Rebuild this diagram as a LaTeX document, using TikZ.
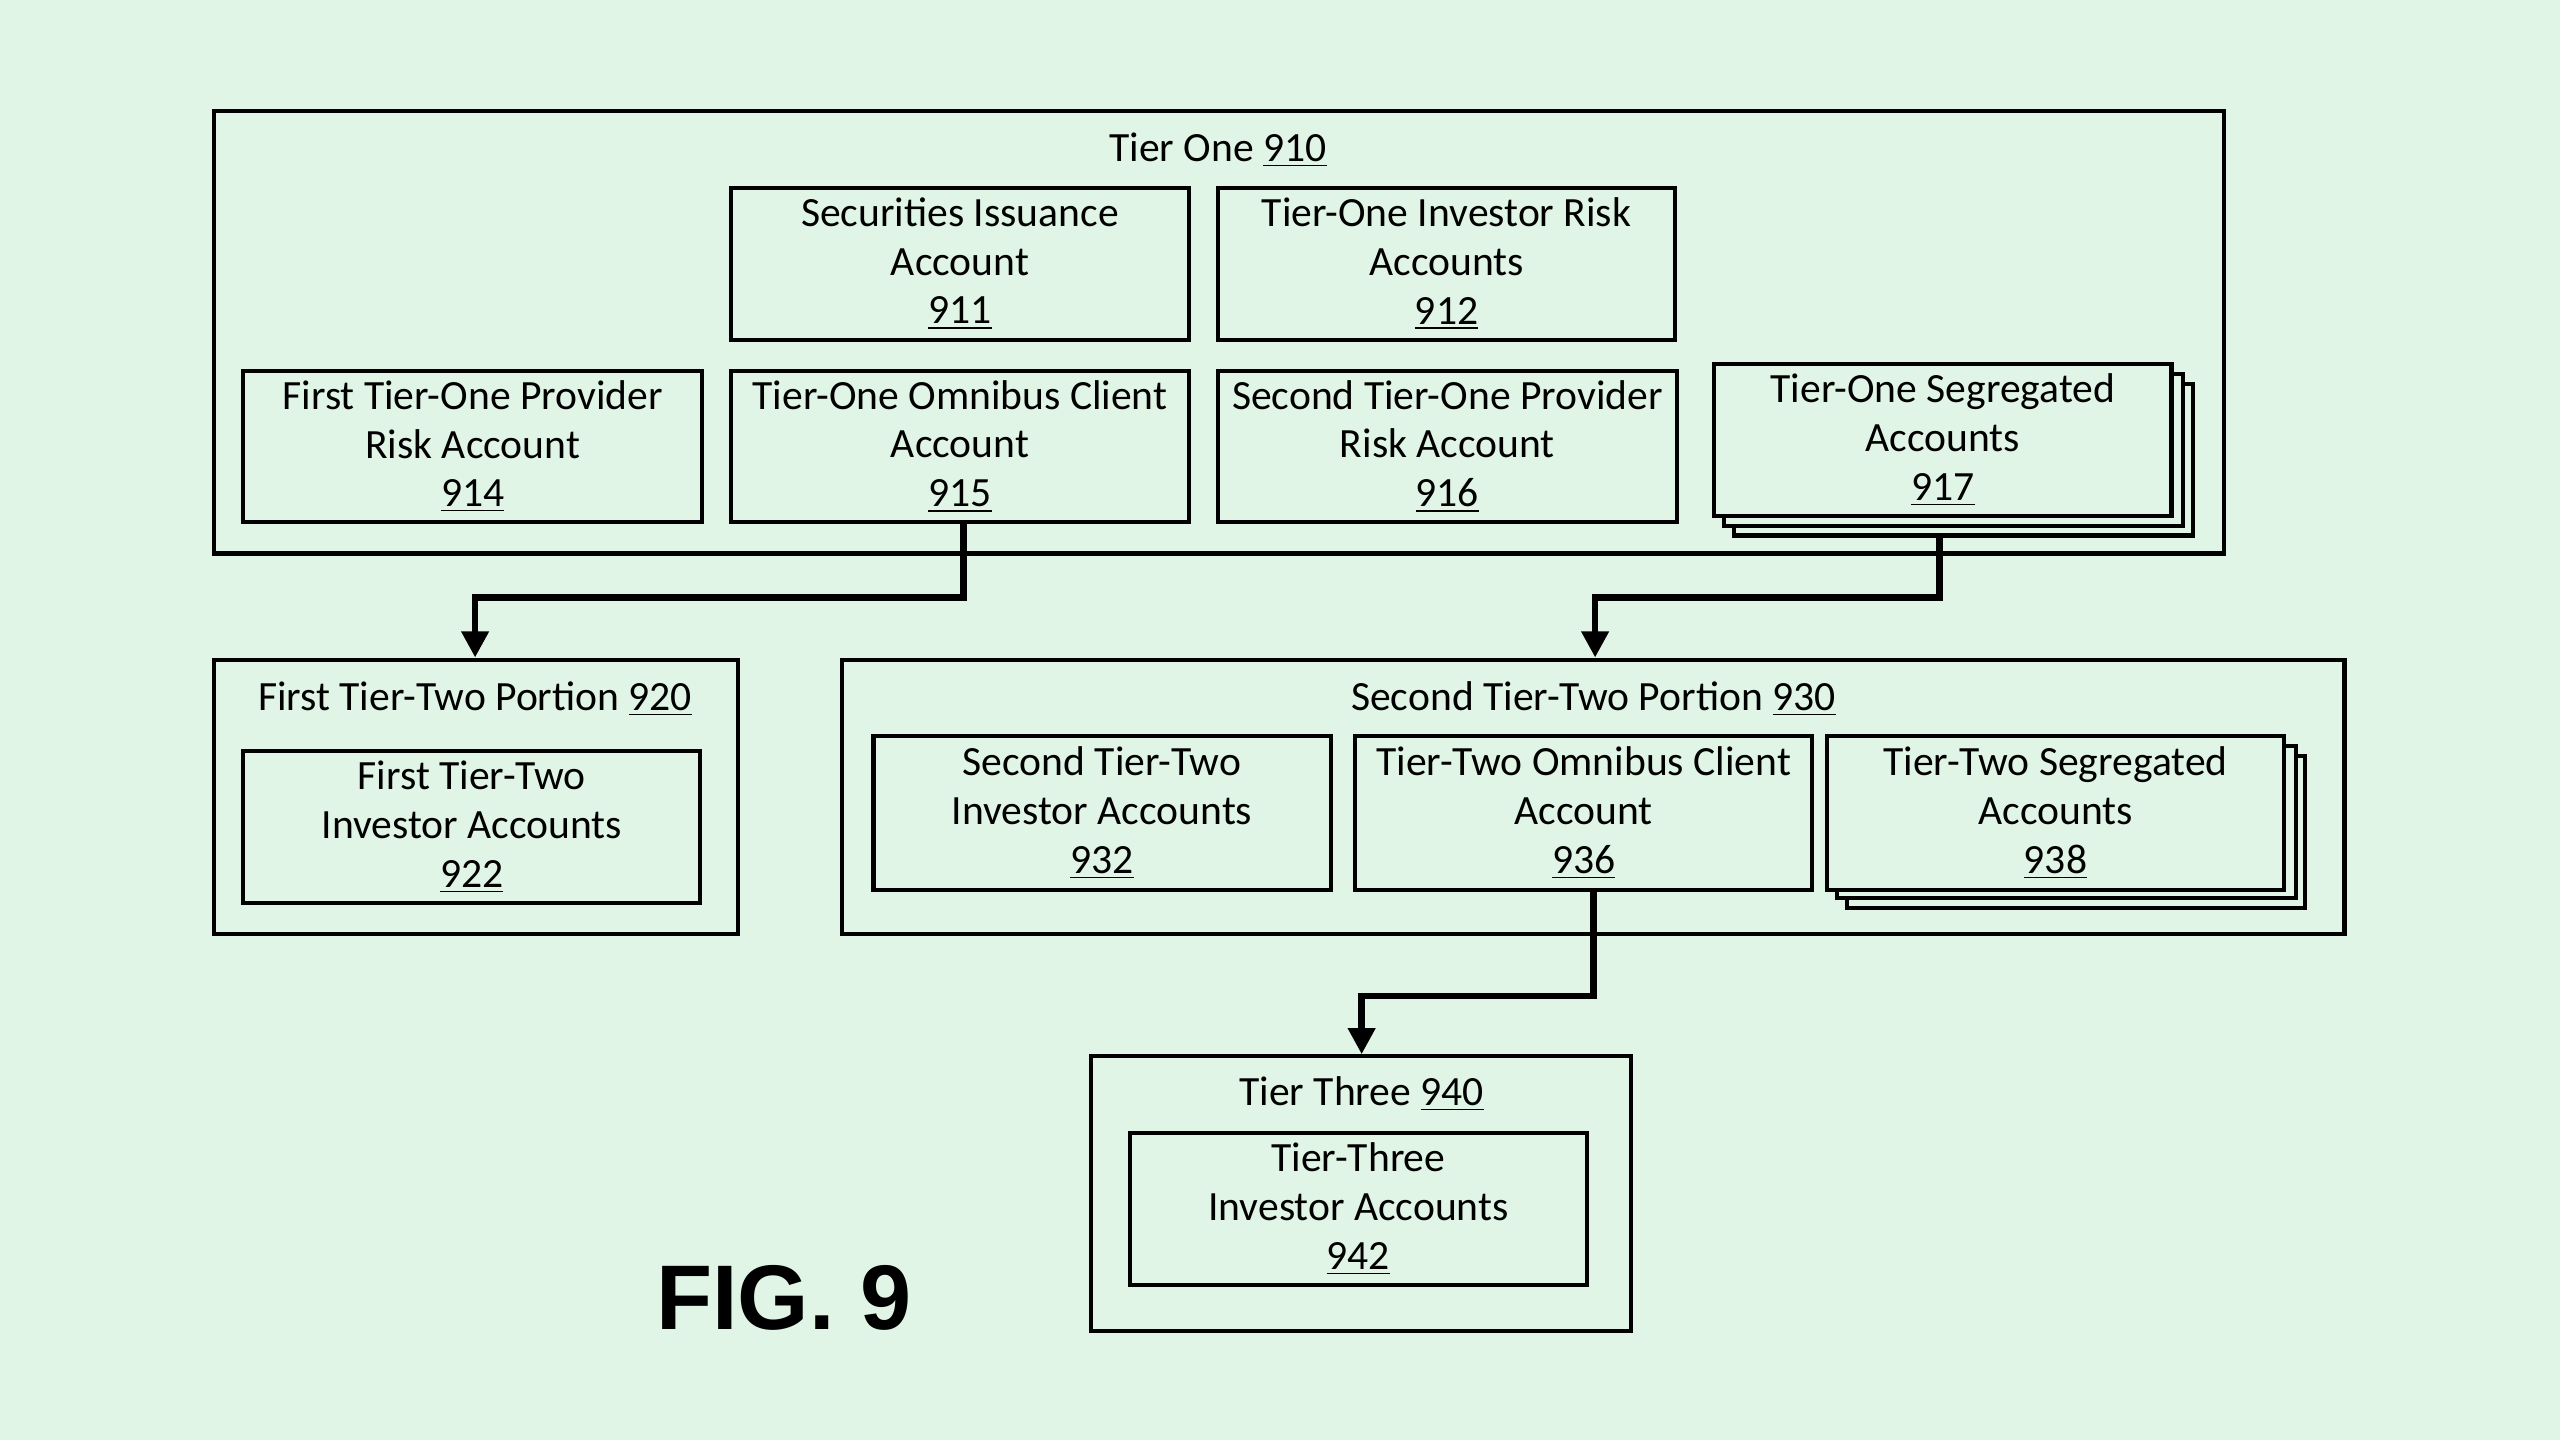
\documentclass[tikz,border=0pt]{standalone}
\usepackage{fontspec}
\setmainfont{Carlito}
\newfontfamily\figfont{Liberation Sans}
\usetikzlibrary{arrows.meta}
\definecolor{bg}{HTML}{E0F5E6}
\begin{document}
\begin{tikzpicture}[x=0.2mm,y=-0.2mm,
  box/.style={draw,line width=0.5mm,fill=bg,inner sep=0pt,align=center,font=\fontsize{14.5}{17}\selectfont},
  ttl/.style={font=\fontsize{14.5}{17}\selectfont,inner sep=0pt},
  conn/.style={line width=0.8mm,-{Triangle[length=3.2mm,width=3.2mm]}}]
\fill[bg] (0,0) rectangle (1568,882);
\useasboundingbox (0,0) rectangle (1568,882);
% Tier one
\node[box,minimum width=246.2mm,minimum height=54.2mm,fill=none] (t1) at (746.5,203.5) {};
\node[ttl] (t1t) at (746,92) {Tier One \underline{910}};
\node[box,minimum width=56mm,minimum height=18.6mm] (n911) at (588,161.5) {Securities Issuance\\Account\\\underline{911}};
\node[box,minimum width=56mm,minimum height=18.6mm] (n912) at (886,161.5) {Tier-One Investor Risk\\Accounts\\\underline{912}};
\node[box,minimum width=56.2mm,minimum height=18.6mm] (n914) at (289.5,273.5) {First Tier-One Provider\\Risk Account\\\underline{914}};
\node[box,minimum width=56mm,minimum height=18.6mm] (n915) at (588,273.5) {Tier-One Omnibus Client\\Account\\\underline{915}};
\node[box,minimum width=56.2mm,minimum height=18.6mm] (n916) at (886.5,273.5) {Second Tier-One Provider\\Risk Account\\\underline{916}};
\draw[line width=0.5mm,fill=bg] (1062,235) rectangle (1343,328);
\draw[line width=0.5mm,fill=bg] (1056,229) rectangle (1337,322);
\node[box,minimum width=56mm,minimum height=18.6mm] (n917) at (1190,269.5) {Tier-One Segregated\\Accounts\\\underline{917}};
% Tier two
\node[box,minimum width=64.2mm,minimum height=33.6mm,fill=none] (t21) at (291.5,488) {};
\node[ttl] (t21t) at (291,428) {First Tier-Two Portion \underline{920}};
\node[box,minimum width=56mm,minimum height=18.6mm] (n922) at (289,506.5) {First Tier-Two\\Investor Accounts\\\underline{922}};
\node[box,minimum width=184mm,minimum height=33.6mm,fill=none] (t22) at (976,488) {};
\node[ttl] (t22t) at (976,428) {Second Tier-Two Portion \underline{930}};
\node[box,minimum width=56mm,minimum height=18.8mm] (n932) at (675,498) {Second Tier-Two\\Investor Accounts\\\underline{932}};
\node[box,minimum width=56mm,minimum height=18.8mm] (n936) at (970,498) {Tier-Two Omnibus Client\\Account\\\underline{936}};
\draw[line width=0.5mm,fill=bg] (1131,463) rectangle (1412,556);
\draw[line width=0.5mm,fill=bg] (1125,457) rectangle (1406,550);
\node[box,minimum width=56mm,minimum height=18.8mm] (n938) at (1259,498) {Tier-Two Segregated\\Accounts\\\underline{938}};
% Tier three
\node[box,minimum width=66.2mm,minimum height=33.6mm,fill=none] (t3) at (833.5,731) {};
\node[ttl] (t3t) at (834,670) {Tier Three \underline{940}};
\node[box,minimum width=56mm,minimum height=18.6mm] (n942) at (832,740.5) {Tier-Three\\Investor Accounts\\\underline{942}};
% connectors
\coordinate (a1) at (590,366);
\coordinate (b1) at (1188,366);
\coordinate (c1) at (976,610);
\draw[conn] (n915.south -| a1) -- (a1) -| (t21.north -| 291,0);
\draw[conn] (1188,328) -- (b1) -| (t22.north -| 977,0);
\draw[conn] (n936.south -| c1) -- (c1) -| (t3.north -| 834,0);
\node[font=\figfont\bfseries\fontsize{32}{36}\selectfont,inner sep=0pt] (fig) at (480,795) {FIG. 9};
\end{tikzpicture}
\end{document}
